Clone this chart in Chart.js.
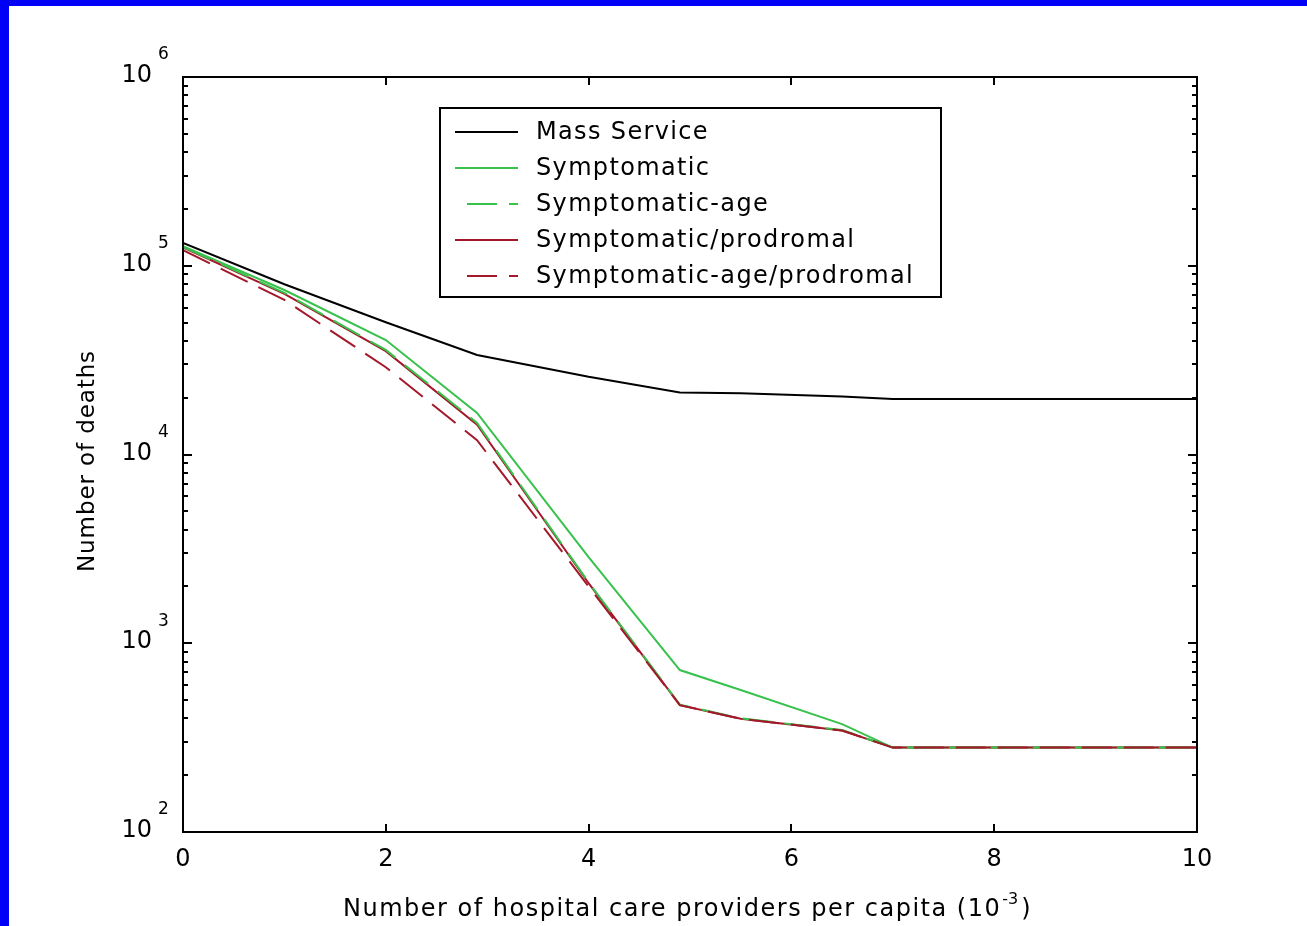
<!DOCTYPE html>
<html>
<head>
<meta charset="utf-8">
<script src="https://cdn.jsdelivr.net/npm/chart.js@4/dist/chart.umd.min.js"></script>
<style>
  html, body { margin: 0; padding: 0; background: #fff; }
  #wrap { position: relative; width: 1307px; height: 926px; overflow: hidden; background: #fff; }
  .edge-left { position: absolute; left: 0; top: 0; width: 9px; height: 926px; background: #0000f6; }
  .edge-top { position: absolute; left: 0; top: 0; width: 1307px; height: 6px; background: #0000f6; }
  canvas { position: absolute; left: 0; top: 0; }
</style>
</head>
<body>
<div id="wrap">
  <div class="edge-left"></div>
  <div class="edge-top"></div>
  <canvas id="chart" width="1307" height="926"></canvas>
</div>
<script>
// Hospital care providers per capita (units of 10^-3)
const providers = [0, 1, 2, 2.9, 4, 4.9, 5.5, 6.5, 7, 8.5, 10];

// Number of deaths for each vaccination strategy
const massService            = [132000, 79800, 50200, 33700, 25800, 21300, 21100, 20300, 19700, 19700, 19700];
const symptomatic            = [127000, 74400, 40400, 16600, 2860, 721, 565, 373, 280, 280, 280];
const symptomaticAge         = [126000, 71800, 35800, 14700, 2100, 473, 400, 347, 280, 280, 280];
const symptomaticProdromal   = [125000, 71000, 35300, 14400, 2080, 470, 398, 345, 280, 280, 280];
const symptomaticAgeProdromal= [121000, 65900, 29000, 11900, 2000, 470, 398, 345, 280, 280, 280];

const seriesNames = ['Mass Service', 'Symptomatic', 'Symptomatic-age', 'Symptomatic/prodromal', 'Symptomatic-age/prodromal'];

const xTicks = [0, 2, 4, 6, 8, 10];
const yExponents = [2, 3, 4, 5, 6];

const GREEN = '#38c24c';
const RED = '#a3182a';
const DASH = [30, 12];

const FONT = '"DejaVu Sans", Verdana, sans-serif';

function points(vals) {
  return providers.map((x, i) => ({ x: x, y: vals[i] }));
}

const datasets = [
  { label: seriesNames[0], data: points(massService), borderColor: '#000000', borderDash: [], order: 5 },
  { label: seriesNames[1], data: points(symptomatic), borderColor: GREEN, borderDash: [], order: 4 },
  { label: seriesNames[2], data: points(symptomaticAge), borderColor: GREEN, borderDash: DASH, order: 2 },
  { label: seriesNames[3], data: points(symptomaticProdromal), borderColor: RED, borderDash: [], order: 3 },
  { label: seriesNames[4], data: points(symptomaticAgeProdromal), borderColor: RED, borderDash: DASH, order: 1 }
].map(d => Object.assign(d, {
  borderWidth: 2,
  pointRadius: 0,
  tension: 0,
  fill: false,
  borderCapStyle: 'butt'
}));

function spaced(ctx, px) {
  if ('letterSpacing' in ctx) ctx.letterSpacing = px + 'px';
}

// Frame, ticks, tick labels, axis titles and the boxed legend
const framePlugin = {
  id: 'frame',
  afterDatasetsDraw(chart) {
    const ctx = chart.ctx;
    const a = chart.chartArea;
    const xs = chart.scales.x;
    const ys = chart.scales.y;
    ctx.save();
    ctx.strokeStyle = '#000';
    ctx.fillStyle = '#000';
    ctx.lineWidth = 2;
    ctx.setLineDash([]);
    ctx.strokeRect(a.left, a.top, a.right - a.left, a.bottom - a.top);

    // x ticks (bottom and top, inward)
    ctx.beginPath();
    xTicks.forEach(v => {
      const px = Math.round(xs.getPixelForValue(v));
      ctx.moveTo(px, a.bottom); ctx.lineTo(px, a.bottom - 8);
      ctx.moveTo(px, a.top); ctx.lineTo(px, a.top + 8);
    });
    ctx.stroke();

    // y ticks, major and minor (left and right, inward)
    ctx.beginPath();
    for (let e = yExponents[0]; e <= yExponents[yExponents.length - 1]; e++) {
      for (let m = 1; m <= 9; m++) {
        if (e === yExponents[yExponents.length - 1] && m > 1) break;
        const py = Math.round(ys.getPixelForValue(m * Math.pow(10, e)));
        const len = m === 1 ? 9 : 5;
        ctx.moveTo(a.left, py); ctx.lineTo(a.left + len, py);
        ctx.moveTo(a.right, py); ctx.lineTo(a.right - len, py);
      }
    }
    ctx.stroke();

    // x tick labels
    spaced(ctx, 0);
    ctx.font = '24px ' + FONT;
    ctx.textAlign = 'center';
    ctx.textBaseline = 'middle';
    xTicks.forEach(v => {
      ctx.fillText(String(v), xs.getPixelForValue(v), a.bottom + 28);
    });

    // y tick labels: 10 with superscript exponent
    yExponents.forEach(e => {
      const py = ys.getPixelForValue(Math.pow(10, e));
      spaced(ctx, 0);
      ctx.font = '24px ' + FONT;
      ctx.textAlign = 'right';
      ctx.textBaseline = 'middle';
      ctx.fillText('10', a.left - 31, py - 1);
      ctx.font = '17px ' + FONT;
      ctx.textAlign = 'left';
      ctx.fillText(String(e), a.left - 25, py - 22);
    });

    // x axis title with superscript
    const mainPart = 'Number of hospital care providers per capita (10';
    const supPart = '-3';
    const endPart = ')';
    ctx.textBaseline = 'alphabetic';
    ctx.textAlign = 'left';
    const titleSpacing = 1.5;
    spaced(ctx, titleSpacing);
    ctx.font = '24px ' + FONT;
    const w1 = ctx.measureText(mainPart).width;
    const tx = 343;
    const baseY = a.bottom + 84;
    ctx.fillText(mainPart, tx, baseY);
    spaced(ctx, 0);
    ctx.font = '16px ' + FONT;
    const w2 = ctx.measureText(supPart).width + 4;
    ctx.fillText(supPart, tx + w1 + 1, baseY - 12);
    spaced(ctx, titleSpacing);
    ctx.font = '24px ' + FONT;
    ctx.fillText(endPart, tx + w1 + w2, baseY);

    // y axis title
    ctx.save();
    ctx.translate(a.left - 95, 461);
    ctx.rotate(-Math.PI / 2);
    ctx.textAlign = 'center';
    ctx.textBaseline = 'middle';
    spaced(ctx, 0.9);
    ctx.font = '23px ' + FONT;
    ctx.fillText('Number of deaths', 0, 0);
    ctx.restore();

    // legend box
    const lx = 440, ly = 108, lw = 501, lh = 189;
    ctx.fillStyle = '#fff';
    ctx.fillRect(lx, ly, lw, lh);
    ctx.strokeStyle = '#000';
    ctx.lineWidth = 2;
    ctx.strokeRect(lx, ly, lw, lh);
    chart.data.datasets.forEach((ds, i) => {
      const ry = ly + 24 + i * 36;
      ctx.strokeStyle = ds.borderColor;
      ctx.lineWidth = 2;
      ctx.setLineDash(ds.borderDash || []);
      ctx.beginPath();
      const dashed = ds.borderDash && ds.borderDash.length;
      ctx.moveTo(dashed ? 467 : 455, ry);
      ctx.lineTo(518, ry);
      ctx.stroke();
      ctx.setLineDash([]);
      ctx.fillStyle = '#000';
      spaced(ctx, 1.35);
      ctx.font = '24px ' + FONT;
      ctx.textAlign = 'left';
      ctx.textBaseline = 'middle';
      ctx.fillText(ds.label, 536, ry + 1);
    });
    ctx.restore();
  }
};

new Chart(document.getElementById('chart'), {
  type: 'line',
  data: { datasets: datasets },
  options: {
    responsive: false,
    animation: false,
    layout: { padding: { left: 183, top: 77, right: 110, bottom: 94 } },
    plugins: { legend: { display: false }, tooltip: { enabled: false } },
    scales: {
      x: { type: 'linear', min: 0, max: 10, display: false },
      y: { type: 'logarithmic', min: 100, max: 1000000, display: false }
    }
  },
  plugins: [framePlugin]
});
</script>
</body>
</html>
